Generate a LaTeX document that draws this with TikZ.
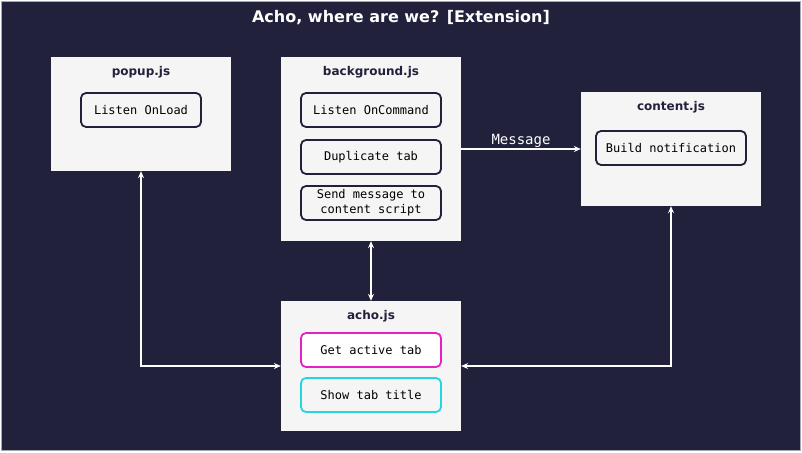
\documentclass[tikz,border=0pt]{standalone}
\usepackage{fontspec}
\setmainfont{DejaVu Sans}
\setmonofont{DejaVu Sans Mono}
\usetikzlibrary{arrows.meta}
\definecolor{navy}{HTML}{21213B}
\definecolor{boxbg}{HTML}{F5F5F5}
\definecolor{framegray}{HTML}{A8A8B4}
\definecolor{mag}{HTML}{E620C4}
\definecolor{cya}{HTML}{22D8DE}
\tikzset{
  module/.style={fill=boxbg, draw=none, minimum width=180pt, inner sep=0pt},
  modtitle/.style={text=navy, font=\fontsize{12pt}{14pt}\selectfont\bfseries},
  task/.style={draw=navy, line width=1.8pt, fill=boxbg, rounded corners=5pt,
    minimum height=34pt, inner sep=0pt, align=center,
    font=\fontsize{12pt}{15pt}\selectfont\ttfamily, text=black},
  conn/.style={draw=white, line width=1.1pt,
    arrows={Stealth[length=7pt,width=6pt,inset=2.5pt]-Stealth[length=7pt,width=6pt,inset=2.5pt]}},
  oneway/.style={draw=white, line width=1.1pt, -{Stealth[length=7pt,width=6pt,inset=2.5pt]}},
}
\begin{document}
\begin{tikzpicture}[x=1pt,y=-1pt]
\useasboundingbox (0,0) rectangle (802,452);
\fill[white] (0,0) rectangle (802,452);
\filldraw[fill=navy, draw=framegray, line width=1pt] (1.5,1.5) rectangle (800.5,450.5);
\node[text=white, font=\fontsize{16pt}{18pt}\selectfont\bfseries] (title) at (401,18) {Acho, where are we? [Extension]};
% modules
\node[module, minimum height=114pt] (popup) at (141,114) {};
\node[module, minimum height=184pt] (bg) at (371,149) {};
\node[module, minimum height=114pt] (content) at (671,149) {};
\node[module, minimum height=130pt] (acho) at (371,366) {};
% titles
\node[modtitle] (popupT) at (141,72) {popup.js};
\node[modtitle] (bgT) at (371,72) {background.js};
\node[modtitle] (contentT) at (671,107) {content.js};
\node[modtitle] (achoT) at (371,316) {acho.js};
% tasks
\node[task, minimum width=120pt] (t1) at (141,110) {Listen OnLoad};
\node[task, minimum width=140pt] (t2) at (371,110) {Listen OnCommand};
\node[task, minimum width=140pt] (t3) at (371,157) {Duplicate tab};
\node[task, minimum width=140pt] (t4) at (371,203) {Send message to\\content script};
\node[task, minimum width=150pt] (t5) at (671,148) {Build notification};
\node[task, minimum width=140pt, draw=mag, fill=white] (t6) at (371,350) {Get active tab};
\node[task, minimum width=140pt, draw=cya] (t7) at (371,395) {Show tab title};
% connectors
\draw[oneway] (bg.east) -- node[above, text=white, font=\fontsize{14pt}{16pt}\selectfont\ttfamily, inner sep=1pt] (msg) {Message} (content.west);
\draw[conn] (popup.south) |- (acho.west);
\draw[conn] (bg.south) -- (acho.north);
\draw[conn] (content.south) |- (acho.east);
\end{tikzpicture}
\end{document}
